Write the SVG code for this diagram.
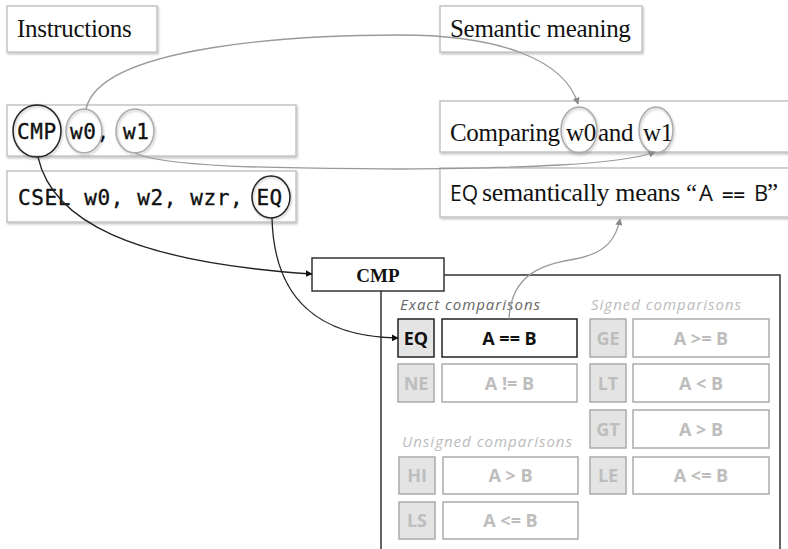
<svg xmlns="http://www.w3.org/2000/svg" width="788" height="549" viewBox="0 0 788 549">
<defs>
<filter id="sh" x="-10%" y="-10%" width="130%" height="140%">
<feDropShadow dx="1" dy="1.5" stdDeviation="1.2" flood-color="#000" flood-opacity="0.25"/>
</filter>
<marker id="ad" viewBox="0 0 10 10" refX="9" refY="5" markerWidth="7" markerHeight="7" orient="auto" markerUnits="userSpaceOnUse">
<path d="M0,0 L10,5 L0,10 z" fill="#111"/>
</marker>
<marker id="ag" viewBox="0 0 10 10" refX="9" refY="5" markerWidth="7" markerHeight="7" orient="auto" markerUnits="userSpaceOnUse">
<path d="M0,0 L10,5 L0,10 z" fill="#888"/>
</marker>
</defs>
<style>
.box{fill:#fff;stroke:#c4c4c4;stroke-width:1.5}
.serif{font-family:"Liberation Serif","Times New Roman",serif;font-size:25px;fill:#111;letter-spacing:-0.3px}
.mono{font-family:"DejaVu Sans Mono","Liberation Mono",monospace;font-size:21px;fill:#111;stroke:#111;stroke-width:0.35;letter-spacing:0.6px}
.cd{fill:none;stroke:#222;stroke-width:1.5}
.cg{fill:none;stroke:#aaa;stroke-width:1.5}
.lab{font-family:"Open Sans","Liberation Sans",sans-serif;font-style:italic;font-size:15px}
.code{fill:#e4e4e4;stroke:#aaa;stroke-width:1.5}
.val{fill:#fff;stroke:#aaa;stroke-width:1.5}
.t{font-family:"Open Sans","Liberation Sans",sans-serif;font-weight:bold;font-size:18px;fill:#bdbdbd;text-anchor:middle}
.dk{stroke:#222}
.conD{fill:none;stroke:#222;stroke-width:1.3}
.conG{fill:none;stroke:#999;stroke-width:1.3}
.sans{font-family:"Open Sans","Liberation Sans",sans-serif;font-size:21px;letter-spacing:0}
.ab{font-family:"Open Sans","Liberation Sans",sans-serif;font-size:22px;letter-spacing:0}
.eqq{font-family:"DejaVu Sans Mono","Liberation Mono",monospace;font-size:19px;letter-spacing:0}
</style>

<g id="instructions-header">
<rect class="box" x="7" y="6" width="150" height="46" filter="url(#sh)"/>
<text class="serif" x="17" y="37">Instructions</text>
</g>
<g id="semantic-header">
<rect class="box" x="440" y="6" width="202" height="46" filter="url(#sh)"/>
<text class="serif" x="450" y="37">Semantic meaning</text>
</g>

<g id="instr-cmp">
<rect class="box" x="7" y="105" width="289" height="51" filter="url(#sh)"/>
<text class="mono" x="17" y="139">CMP w0, w1</text>
<ellipse class="cd" cx="37" cy="131" rx="24" ry="26" filter="url(#sh)"/>
<ellipse class="cg" cx="84" cy="131" rx="18" ry="22" filter="url(#sh)"/>
<ellipse class="cg" cx="135" cy="131" rx="19" ry="22" filter="url(#sh)"/>
</g>
<g id="instr-csel">
<rect class="box" x="7" y="171" width="289" height="51" filter="url(#sh)"/>
<text class="mono" x="18" y="205">CSEL w0, w2, wzr, EQ</text>
<ellipse class="cd" cx="271" cy="197" rx="19" ry="21" filter="url(#sh)"/>
</g>

<g id="sem-compare">
<rect class="box" x="440" y="101" width="360" height="51" filter="url(#sh)"/>
<text class="serif" y="141"><tspan x="450">Comparing</tspan><tspan x="566">w0</tspan><tspan x="598">and</tspan><tspan x="643">w1</tspan></text>
<ellipse class="cg" cx="579" cy="130" rx="18" ry="23" filter="url(#sh)"/>
<ellipse class="cg" cx="656" cy="130" rx="17" ry="23" filter="url(#sh)"/>
</g>
<g id="sem-eq">
<rect class="box" x="440" y="168" width="360" height="49" filter="url(#sh)"/>
<text class="serif" y="201"><tspan class="sans" x="450">EQ</tspan><tspan x="482" textLength="198" lengthAdjust="spacingAndGlyphs">semantically means</tspan><tspan x="686">“</tspan><tspan class="ab" x="699">A</tspan><tspan class="eqq" x="722">==</tspan><tspan class="ab" x="754">B</tspan><tspan x="767">”</tspan></text>
</g>

<g id="cmp-panel">
<rect x="381" y="275" width="399" height="300" fill="#fff" stroke="#333" stroke-width="1.5"/>
<text class="lab" x="400" y="310" fill="#666" textLength="140">Exact comparisons</text>
<text class="lab" x="591" y="310" fill="#bbb" textLength="150">Signed comparisons</text>
<text class="lab" x="402" y="447" fill="#bbb" textLength="170">Unsigned comparisons</text>
</g>
<g id="cmp-title">
<rect x="312" y="258" width="132" height="33" fill="#fff" stroke="#333" stroke-width="1.5"/>
<text x="378" y="282" text-anchor="middle" font-family="Liberation Serif, Times New Roman, serif" font-weight="bold" font-size="19" fill="#111">CMP</text>
</g>

<g id="eq">
<rect class="code dk" x="398" y="319" width="36" height="38"/>
<text class="t" x="416" y="345" style="fill:#111">EQ</text>
<rect class="val dk" x="442" y="319" width="135" height="38"/>
<text class="t" x="509.5" y="345" style="fill:#111">A == B</text>
</g>
<g id="ne">
<rect class="code" x="398" y="364" width="36" height="38"/>
<text class="t" x="416" y="390">NE</text>
<rect class="val" x="442" y="364" width="135" height="38"/>
<text class="t" x="509.5" y="390">A != B</text>
</g>
<g id="hi">
<rect class="code" x="399" y="457" width="36" height="37"/>
<text class="t" x="417" y="482">HI</text>
<rect class="val" x="443" y="457" width="135" height="37"/>
<text class="t" x="510.5" y="482">A &gt; B</text>
</g>
<g id="ls">
<rect class="code" x="399" y="502" width="36" height="37"/>
<text class="t" x="417" y="527">LS</text>
<rect class="val" x="443" y="502" width="135" height="37"/>
<text class="t" x="510.5" y="527">A &lt;= B</text>
</g>
<g id="ge">
<rect class="code" x="590" y="319" width="36" height="38"/>
<text class="t" x="608" y="345">GE</text>
<rect class="val" x="633" y="319" width="136" height="38"/>
<text class="t" x="701" y="345">A &gt;= B</text>
</g>
<g id="lt">
<rect class="code" x="590" y="364" width="36" height="38"/>
<text class="t" x="608" y="390">LT</text>
<rect class="val" x="633" y="364" width="136" height="38"/>
<text class="t" x="701" y="390">A &lt; B</text>
</g>
<g id="gt">
<rect class="code" x="590" y="410" width="36" height="38"/>
<text class="t" x="608" y="436">GT</text>
<rect class="val" x="633" y="410" width="136" height="38"/>
<text class="t" x="701" y="436">A &gt; B</text>
</g>
<g id="le">
<rect class="code" x="590" y="457" width="36" height="37"/>
<text class="t" x="608" y="482">LE</text>
<rect class="val" x="633" y="457" width="136" height="37"/>
<text class="t" x="701" y="482">A &lt;= B</text>
</g>

<g id="connectors">
<path class="conG" d="M86,109 C100,45 300,35 400,35 C500,35 565,60 578,104" marker-end="url(#ag)"/>
<path class="conG" d="M135,153 C170,170 330,168 400,169 C520,168 620,165 655,152" marker-end="url(#ag)"/>
<path class="conD" d="M38,157 C52,220 130,262 312,274" marker-end="url(#ad)"/>
<path class="conD" d="M272,218 C274,300 320,337 398,338" marker-end="url(#ad)"/>
<path class="conG" d="M509,319 C511,272 545,264 580,258 C605,252 616,240 620,219" marker-end="url(#ag)"/>
</g>
</svg>
